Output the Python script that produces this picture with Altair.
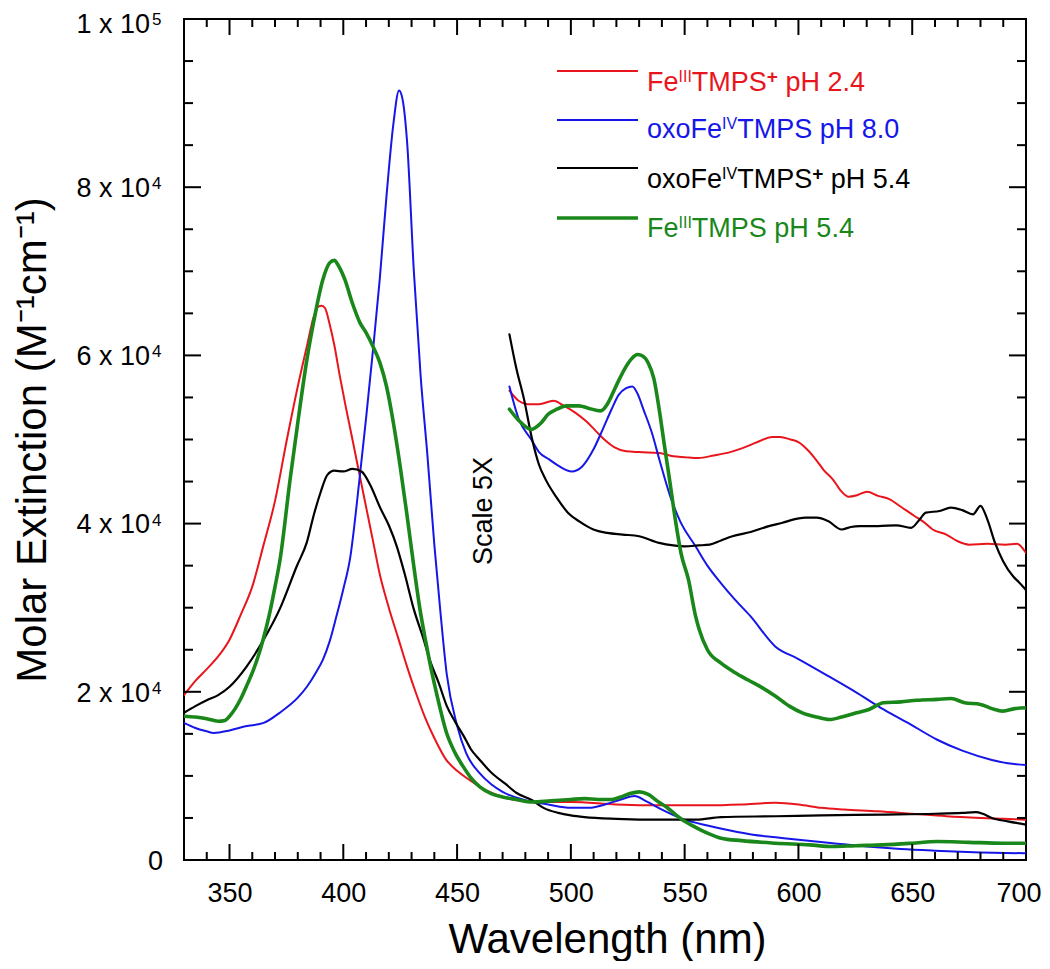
import altair as alt
import pandas as pd

FONT = "Liberation Sans"

# ---------------- data (nm, M^-1 cm^-1) ----------------
red_nm = [330, 335, 340, 345, 350, 355, 360, 365, 370, 375, 380, 384, 387, 389, 390.5, 392, 394, 396, 398.5, 401,
          404.4, 407, 410.3, 413, 416, 420, 424, 428, 432, 436, 440, 445, 450, 455, 460, 465, 470, 480, 490, 500,
          520, 540, 560, 575, 590, 600, 610, 620, 635, 650, 665, 680, 690, 700]
red_val = [19600, 21300, 22700, 24200, 26200, 29200, 32500, 37500, 42700, 49700, 56300, 61100, 64600, 65800, 65900,
           65600, 63700, 61300, 57500, 54000, 49500, 46000, 41600, 38000, 34000, 30000, 26500, 23000, 19800, 16900,
           14500, 12000, 10600, 9600, 8700, 8000, 7500, 7000, 6900, 6900, 6600, 6500, 6500, 6600, 6800, 6600, 6200,
           6000, 5800, 5500, 5200, 5000, 4900, 4800]

blue_nm = [330, 335, 340, 343, 350, 357, 365, 372, 380, 384, 388, 391, 394, 397, 400, 403, 407, 410, 413, 416,
           419, 422, 424.5, 426, 428, 431, 434, 437, 440, 442.5, 445.5, 450, 454, 460, 465, 470, 480, 490, 500, 508,
           515, 522, 528, 533, 540, 550, 560, 570, 580, 590, 600, 615, 630, 645, 660, 680, 700]
blue_val = [16300, 15700, 15300, 15100, 15400, 15900, 16300, 17500, 19300, 20600, 22300, 23800, 26000, 29000, 32200,
            35900, 45000, 52500, 60500, 69000, 79000, 87500, 91500, 90500, 85500, 70000, 57500, 48000, 37500, 30000,
            22000, 16000, 12700, 10300, 9000, 8100, 7100, 6600, 6200, 6200, 6600, 7200, 7600, 7000, 6000, 4800, 4100,
            3500, 3000, 2700, 2400, 2000, 1600, 1300, 1100, 900, 800]

black_nm = [330, 335, 340, 345, 350, 357.5, 365, 372, 379.5, 384, 387, 390, 393, 396, 400, 404, 408, 412, 416, 420,
            423.5, 427, 431, 435, 438, 442, 445.5, 449, 453, 456, 460, 465, 471, 476, 483, 488, 494.5, 500, 506, 520,
            540, 555, 566, 590, 610, 637, 660, 672, 678, 681, 685, 692, 700]
black_val = [17500, 18300, 19000, 19600, 20600, 23000, 26200, 29800, 34900, 37800, 41000, 43700, 45800, 46300, 46200,
             46500, 46200, 44500, 42000, 39800, 37300, 34000, 29800, 26500, 23800, 21000, 18300, 16500, 14700, 13200,
             11900, 10400, 9100, 8000, 7100, 6200, 5600, 5300, 5100, 4900, 4800, 4800, 5100, 5200, 5300, 5400, 5500,
             5600, 5700, 5500, 5000, 4600, 4200]

green_nm = [330, 335, 340, 345, 348, 350, 352.5, 355, 358, 360.5, 363.5, 366.3, 368, 370, 372.2, 376.6, 380, 384, 387,
            391, 394, 396, 398, 400.7, 404, 407.3, 410, 413, 416, 419, 422, 425, 428, 430.8, 433.7, 436, 438, 441,
            445.4, 449, 452.7, 456, 460, 465, 470, 476, 483, 490, 495, 500, 506, 512, 518, 522, 526, 530, 534, 538,
            542, 546, 550, 554, 560, 566, 575, 590, 605, 615, 625, 637, 650, 661, 675, 690, 700]
green_val = [17100, 17000, 16800, 16500, 16600, 17100, 18000, 19200, 21000, 22600, 25000, 27800, 29800, 32500, 35700,
             45200, 52000, 59500, 64000, 69000, 71000, 71300, 70600, 69000, 66200, 63900, 62700, 61100, 59200, 56300,
             52000, 46800, 41000, 35300, 29800, 26300, 23500, 19800, 15100, 12800, 11100, 9800, 8700, 7900, 7500,
             7200, 6900, 7000, 7100, 7200, 7300, 7200, 7200, 7500, 7900, 8100, 7800, 7000, 6300, 5400, 4600, 4000,
             3200, 2600, 2300, 2000, 1800, 1600, 1700, 1800, 2000, 2200, 2100, 2000, 2000]

# "Scale 5X" traces (as plotted)
red_in_nm = [473, 477, 481, 486, 492.3, 497, 501.9, 507, 511, 514.7, 519, 524.3, 530, 538.8, 545, 550, 556, 562.8,
             570, 575.7, 582, 588.5, 592, 596.5, 600, 604.6, 608, 611, 615, 619, 622, 626, 630.2, 635, 639.9, 645,
             651, 655, 659, 665, 670, 675, 683, 691, 696, 700]
red_in_val = [55800, 54600, 54200, 54200, 54600, 54000, 53200, 52100, 51000, 50000, 49100, 48600, 48500, 48400,
              48000, 47900, 47800, 48100, 48500, 49000, 49700, 50300, 50300, 50000, 49700, 48600, 47500, 46400,
              45300, 43800, 43200, 43400, 43800, 43300, 42900, 42000, 40900, 40200, 39300, 38700, 37900, 37500,
              37600, 37500, 37600, 36500]

blue_in_nm = [473, 477, 482.6, 486, 490.6, 495, 500.3, 505, 509.9, 514, 517.9, 521, 524.3, 527, 529.2, 532, 535.6,
              539, 543.6, 548, 554.8, 560, 566, 572, 578.9, 589.8, 600, 613.6, 625, 637.4, 650, 661, 672, 685, 692,
              700]
blue_in_val = [56300, 52500, 50000, 48500, 47600, 46800, 46200, 46800, 48800, 51200, 53600, 55300, 56100, 56300,
               55500, 53500, 50800, 47500, 43300, 40300, 37300, 35000, 32900, 31000, 29000, 25400, 23900, 21800,
               20000, 17900, 16000, 14300, 13000, 11900, 11500, 11300]

black_in_nm = [473, 476, 479.4, 483, 486, 489, 494, 498.7, 504, 509.9, 516, 522.7, 530, 538.8, 545, 550, 556, 561,
               566, 571, 579, 587, 593, 598, 603, 608, 613, 619, 623, 627, 635, 643, 649.5, 653, 656, 662, 667, 672,
               676.7, 680, 683, 686.4, 690, 694.4, 697, 700]
black_in_val = [62500, 58500, 54800, 50000, 47000, 45200, 43000, 41300, 40200, 39300, 38900, 38700, 38500, 37700,
                37400, 37300, 37400, 37500, 38000, 38500, 39000, 39700, 40100, 40500, 40700, 40700, 40300, 39300,
                39600, 39700, 39700, 39800, 39500, 40400, 41300, 41500, 41900, 41600, 41100, 42100, 40500, 37700,
                35500, 33700, 33000, 32100]

green_in_nm = [473, 477, 482.6, 487, 490, 493.9, 498, 503.5, 508, 513, 516, 517.9, 521, 524.3, 527, 529.2, 531, 534,
               536.5, 538.8, 541, 543.6, 546, 548.4, 551.7, 554.8, 556.4, 560, 566, 572, 577.9, 584, 589.8, 596,
               601.7, 608, 613.6, 619, 625.5, 631, 637.4, 645, 652, 661, 667, 673, 680, 685, 689.8, 695, 700]
green_in_val = [53600, 52300, 51200, 52000, 53000, 53600, 54000, 54000, 53700, 53400, 54200, 55200, 57000, 58700,
                59700, 60100, 60000, 59100, 57200, 53600, 49500, 44800, 40300, 36500, 33300, 29000, 27400, 25000,
                23400, 22300, 21400, 20500, 19500, 18300, 17500, 17000, 16700, 17000, 17500, 17900, 18700, 18800,
                19000, 19100, 19200, 18700, 18500, 18000, 17700, 18000, 18100]

# axis ticks / labels
x_label_values = [350, 400, 450, 500, 550, 600, 650, 700]
x_major_ticks = [350, 400, 450, 500, 550, 600, 650]
x_minor_ticks = [v for v in range(340, 700, 10) if v % 50 != 0]
y_label_values = [0, 20000, 40000, 60000, 80000, 100000]
y_label_main = ["0", "2 x 10", "4 x 10", "6 x 10", "8 x 10", "1 x 10"]
y_label_exp = ["", "4", "4", "4", "4", "5"]
y_major_ticks = [20000, 40000, 60000, 80000]
y_minor_ticks = [v for v in range(5000, 100000, 5000) if v % 20000 != 0]

# legend entries: list of (text, kind) pieces; kind n = normal, s = superscript, p = bold plus
legend_rows = [
    [("Fe", "n"), ("III", "s"), ("TMPS", "n"), ("+", "p"), (" pH 2.4", "n")],
    [("oxoFe", "n"), ("IV", "s"), ("TMPS pH 8.0", "n")],
    [("oxoFe", "n"), ("IV", "s"), ("TMPS", "n"), ("+", "p"), (" pH 5.4", "n")],
    [("Fe", "n"), ("III", "s"), ("TMPS pH 5.4", "n")],
]

# ---------------- styles ----------------
colors = {"red": "#e8161c", "blue": "#1616e8", "black": "#000000", "green": "#1a871a"}
widths = {"red": 2.0, "blue": 2.0, "black": 2.2, "green": 3.6}
W, H = 842, 841

xscale = alt.Scale(domain=[330, 700], nice=False, zero=False)
yscale = alt.Scale(domain=[0, 100000], nice=False, zero=False)

x_axis = alt.Axis(values=x_label_values, labelFont=FONT, labelFontSize=27, labelColor="black",
                  labelPadding=20, labelFlush=True, labelFlushOffset=15, labelOverlap=False,
                  ticks=False, tickSize=0,
                  domain=False, grid=False, title="Wavelength (nm)", titleFont=FONT, titleFontSize=42,
                  titleFontWeight="normal", titleColor="black", titleX=W / 2 + 2, titleY=92,
                  titleBaseline="alphabetic", titleAlign="center", titleAnchor="middle")
y_axis = alt.Axis(labels=False, ticks=False, tickSize=0, domain=False, grid=False,
                  title="Molar Extinction (M\u207b\u00b9cm\u207b\u00b9)", titleFont=FONT, titleFontSize=42,
                  titleFontWeight="normal", titleColor="black", titleX=-139, titleY=H / 2,
                  titleAngle=270, titleBaseline="alphabetic", titleAlign="center", titleAnchor="middle")

XF = lambda f: alt.X(f, scale=xscale, axis=x_axis)
YF = lambda f: alt.Y(f, scale=yscale, axis=y_axis)

series = [
    ("red", red_nm, red_val, red_in_nm, red_in_val),
    ("blue", blue_nm, blue_val, blue_in_nm, blue_in_val),
    ("black", black_nm, black_val, black_in_nm, black_in_val),
    ("green", green_nm, green_val, green_in_nm, green_in_val),
]

layers = []
for name, nm, val, nm_in, val_in in series:
    df = pd.concat([
        pd.DataFrame({"nm": nm, "val": val, "part": "main"}),
        pd.DataFrame({"nm": nm_in, "val": val_in, "part": "inset"}),
    ])
    layers.append(
        alt.Chart(df).mark_line(color=colors[name], strokeWidth=widths[name], interpolate="monotone",
                                clip=True, strokeJoin="round", strokeCap="round")
        .encode(x=XF("nm:Q"), y=YF("val:Q"), detail="part:N")
    )

# inward ticks on all four sides
def xticks(vals, length, top):
    d = pd.DataFrame({"nm": vals})
    y0, y1 = (0, length) if top else (H, H - length)
    return alt.Chart(d).mark_rule(color="black", strokeWidth=2).encode(
        x=XF("nm:Q"), y=alt.value(y0), y2=alt.value(y1))

def yticks(vals, length, right):
    d = pd.DataFrame({"val": vals})
    x0, x1 = (W, W - length) if right else (0, length)
    return alt.Chart(d).mark_rule(color="black", strokeWidth=2).encode(
        y=YF("val:Q"), x=alt.value(x0), x2=alt.value(x1))

for top in (False, True):
    layers.append(xticks(x_major_ticks, 16, top))
    layers.append(xticks(x_minor_ticks, 8, top))
for right in (False, True):
    layers.append(yticks(y_major_ticks, 17, right))
    layers.append(yticks(y_minor_ticks, 9, right))

# y tick labels with superscript exponents (top label nudged down to stay inside the page)
ylab = pd.DataFrame({"val": y_label_values, "main": y_label_main, "exp": y_label_exp})
top_v = max(y_label_values)
groups = [
    (ylab[(ylab["exp"] != "") & (ylab["val"] != top_v)], 0),
    (ylab[ylab["val"] == top_v], 4),
]
for d, nudge in groups:
    layers.append(alt.Chart(d).mark_text(align="right", baseline="alphabetic", dy=9.7 + nudge, font=FONT,
                                         fontSize=27, color="black")
                  .encode(y=YF("val:Q"), x=alt.value(-34), text="main:N"))
    layers.append(alt.Chart(d).mark_text(align="left", baseline="alphabetic", dy=2 + nudge, font=FONT,
                                         fontSize=17, color="black")
                  .encode(y=YF("val:Q"), x=alt.value(-32), text="exp:N"))
ylab_0 = ylab[ylab["exp"] == ""]
layers.append(alt.Chart(ylab_0).mark_text(align="right", baseline="alphabetic", dy=9.7, font=FONT,
                                          fontSize=27, color="black")
              .encode(y=YF("val:Q"), x=alt.value(-21), text="main:N"))

# "Scale 5X" annotation
one = alt.Data(values=[{}])
layers.append(alt.Chart(one).mark_text(text="Scale 5X", angle=270, align="center", baseline="middle",
                                       font=FONT, fontSize=27, color="black")
              .encode(x=alt.value(300), y=alt.value(492)))

# legend (manual, with superscripts)
adv = {'F': 611, 'e': 556, 'T': 611, 'M': 833, 'P': 667, 'S': 667, ' ': 278, 'p': 556, 'H': 722,
       '2': 556, '.': 278, '4': 556, 'o': 556, 'x': 500, '8': 556, '0': 556, '5': 556, 'I': 278,
       'V': 667, '+': 584}
size_of = {"n": 27, "s": 16, "p": 19}
rise_of = {"n": 0, "s": -9, "p": -8}
legend_colors = ["red", "blue", "black", "green"]
text_x0, line_x0, line_x1 = 463, 373, 454
baselines = [72, 119, 169, 218]
line_ys = [52, 101, 149, 199]
for row, cname, by, ly in zip(legend_rows, legend_colors, baselines, line_ys):
    layers.append(alt.Chart(one).mark_rule(color=colors[cname], strokeWidth=widths[cname])
                  .encode(x=alt.value(line_x0), x2=alt.value(line_x1), y=alt.value(ly)))
    x = text_x0
    for text, kind in row:
        fs = size_of[kind]
        lead = len(text) - len(text.lstrip(" "))
        x += lead * adv[' '] * fs / 1000
        t = text.strip(" ")
        layers.append(alt.Chart(one).mark_text(text=t, align="left", baseline="alphabetic", font=FONT,
                                               fontSize=fs, color=colors[cname],
                                               fontWeight="bold" if kind == "p" else "normal")
                      .encode(x=alt.value(x), y=alt.value(by + rise_of[kind])))
        x += sum(adv.get(c, 556) for c in t) * fs / 1000

chart = alt.layer(*layers).properties(
    width=W, height=H,
    autosize=alt.AutoSizeParams(type="none"),
    padding={"left": 176, "top": 11, "right": 16, "bottom": 101},
).configure_view(stroke="black", strokeWidth=2)

chart.save("out.html", embed_options={"renderer": "svg", "actions": False})
